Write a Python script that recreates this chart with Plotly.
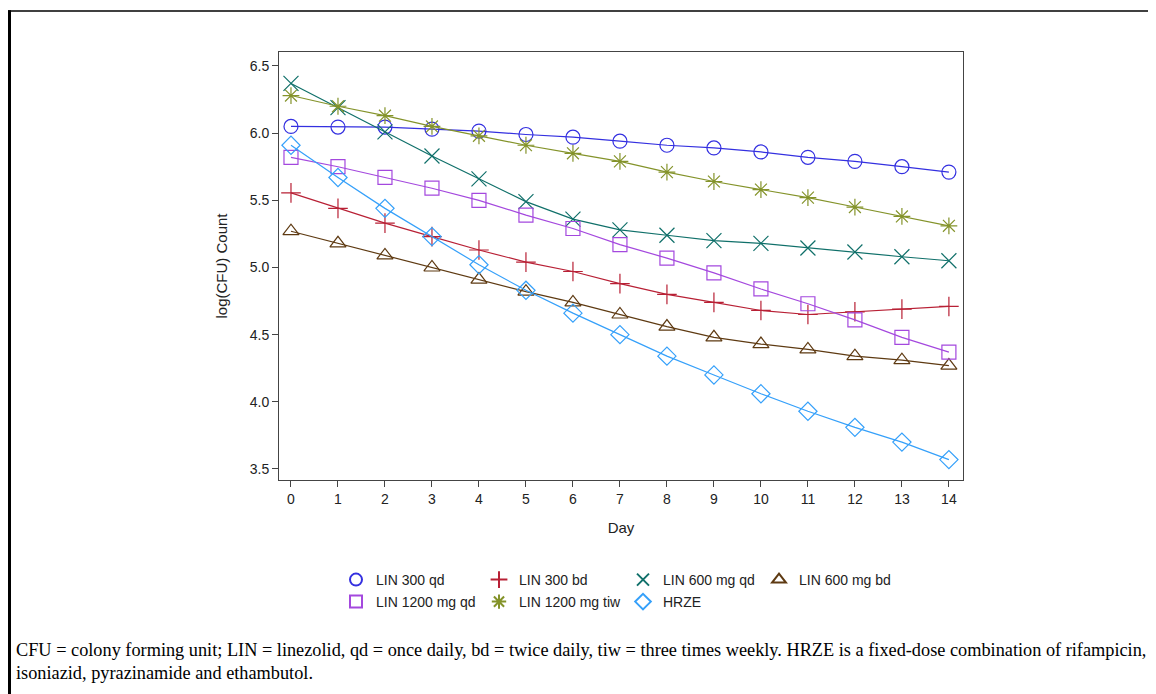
import plotly.graph_objects as go

days = list(range(15))

series_names = ["LIN 300 qd", "LIN 300 bd", "LIN 600 mg qd", "LIN 600 mg bd",
                "LIN 1200 mg qd", "LIN 1200 mg tiw", "HRZE"]

lin300_qd = [6.05, 6.045, 6.045, 6.03, 6.015, 5.99, 5.97, 5.94, 5.91, 5.89, 5.86, 5.82, 5.79, 5.75, 5.71]
lin300_bd = [5.555, 5.44, 5.33, 5.23, 5.13, 5.04, 4.97, 4.88, 4.80, 4.74, 4.68, 4.65, 4.67, 4.69, 4.71]
lin600_qd = [6.37, 6.19, 6.01, 5.83, 5.66, 5.49, 5.36, 5.28, 5.24, 5.20, 5.18, 5.145, 5.115, 5.08, 5.05]
lin600_bd = [5.27, 5.18, 5.09, 5.00, 4.91, 4.82, 4.74, 4.65, 4.56, 4.48, 4.43, 4.39, 4.34, 4.31, 4.27]
lin1200_qd = [5.82, 5.75, 5.67, 5.59, 5.50, 5.39, 5.29, 5.17, 5.07, 4.96, 4.84, 4.73, 4.61, 4.48, 4.37]
lin1200_tiw = [6.28, 6.20, 6.13, 6.05, 5.98, 5.91, 5.85, 5.79, 5.71, 5.64, 5.58, 5.52, 5.45, 5.38, 5.31]
hrze = [5.91, 5.67, 5.44, 5.23, 5.02, 4.83, 4.66, 4.50, 4.34, 4.20, 4.06, 3.93, 3.81, 3.70, 3.57]

series_values = [lin300_qd, lin300_bd, lin600_qd, lin600_bd, lin1200_qd, lin1200_tiw, hrze]
colors = ["#3430E0", "#B82035", "#10706A", "#5E3A12", "#A448DE", "#84932A", "#35A0FA"]
symbols = ["circle-open", "cross-thin-open", "x-thin-open", "triangle-up-open",
           "square-open", "asterisk-open", "diamond-open"]
sizes = [14, 14, 15, 14, 14, 14, 14]

x_ticks = list(range(15))
y_ticks = [3.5, 4.0, 4.5, 5.0, 5.5, 6.0, 6.5]

# page body margin offset
O = 8
W, H = 1156 - O, 694 - O
L, R, T, B = 279 - O, 963 - O, 52 - O, 480 - O

def px_x(px):  # page px -> paper
    return (px - O - L) / (R - L)

def px_y(py):
    return (B - (py - O)) / (B - T)

fig = go.Figure()
for name, vals, c, s, sz in zip(series_names, series_values, colors, symbols, sizes):
    fig.add_trace(go.Scatter(
        x=days, y=vals, mode="lines+markers", name=name, showlegend=False,
        line=dict(color=c, width=1.2),
        marker=dict(symbol=s, size=sz, color=c, line=dict(color=c, width=1.2)),
    ))

# legend entries: one small legend per item, laid out in SAS-like grid
legend_pos = [(358, 580), (501, 580), (645, 580), (781, 580),
              (358, 602), (501, 602), (645, 602)]
legend_keys = ["legend"] + ["legend%d" % i for i in range(2, 8)]
leg_font = dict(family="Liberation Sans, Arial", size=14, color="#222")
legend_layout = {}
for i, (name, c, s, sz) in enumerate(zip(series_names, colors, symbols, sizes)):
    fig.add_trace(go.Scatter(
        x=[None], y=[None], mode="markers", name=name, legend=legend_keys[i],
        marker=dict(symbol=s, size=sz, color=c, line=dict(color=c, width=1.2)),
    ))
    lx, ly = legend_pos[i]
    legend_layout[legend_keys[i]] = dict(
        orientation="h", x=px_x(lx - 22), y=px_y(ly), xanchor="left", yanchor="middle",
        bgcolor="rgba(0,0,0,0)", font=leg_font, itemsizing="constant")

axis_common = dict(
    showline=True, linecolor="#444", linewidth=1, mirror=True,
    ticks="outside", ticklen=6, tickcolor="#444", showgrid=False, zeroline=False,
    tickfont=dict(family="Liberation Sans, Arial", size=14, color="#222"),
)

title_font = dict(family="Liberation Sans, Arial", size=15, color="#222")
foot_font = dict(family="Liberation Serif, Times New Roman", size=18.3, color="black")

fig.update_layout(
    width=W, height=H,
    margin=dict(l=L, r=W - R, t=T, b=H - B),
    paper_bgcolor="white", plot_bgcolor="white",
    xaxis=dict(range=[-0.255, 14.3], tickvals=x_ticks, **axis_common,
               title=dict(text="Day", font=title_font, standoff=16)),
    yaxis=dict(range=[3.418, 6.604], tickvals=y_ticks, tickformat=".1f", **axis_common,
               title=dict(text="log(CFU) Count", font=title_font, standoff=18)),
    shapes=[
        dict(type="line", xref="paper", yref="paper", x0=px_x(8), x1=px_x(1160), y0=px_y(11), y1=px_y(11),
             line=dict(color="black", width=1.5)),
        dict(type="line", xref="paper", yref="paper", x0=px_x(9.5), x1=px_x(9.5), y0=px_y(10.3), y1=px_y(700),
             line=dict(color="black", width=3)),
    ],
    annotations=[
        dict(text="CFU = colony forming unit; LIN = linezolid, qd = once daily, bd = twice daily, tiw = three times weekly. HRZE is a fixed-dose combination of rifampicin,",
             xref="paper", yref="paper", x=px_x(14), y=px_y(650), xanchor="left", yanchor="middle",
             showarrow=False, font=foot_font),
        dict(text="isoniazid, pyrazinamide and ethambutol.",
             xref="paper", yref="paper", x=px_x(14), y=px_y(673), xanchor="left", yanchor="middle",
             showarrow=False, font=foot_font),
    ],
    **legend_layout,
)

fig.write_html("out.html")
